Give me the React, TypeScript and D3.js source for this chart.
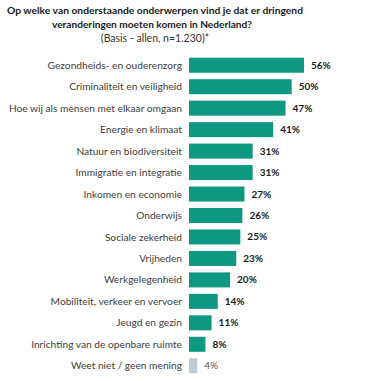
import React from 'react';
import * as d3 from 'd3';

const categories = [
  'Gezondheids- en ouderenzorg',
  'Criminaliteit en veiligheid',
  'Hoe wij als mensen met elkaar omgaan',
  'Energie en klimaat',
  'Natuur en biodiversiteit',
  'Immigratie en integratie',
  'Inkomen en economie',
  'Onderwijs',
  'Sociale zekerheid',
  'Vrijheden',
  'Werkgelegenheid',
  'Mobiliteit, verkeer en vervoer',
  'Jeugd en gezin',
  'Inrichting van de openbare ruimte',
  'Weet niet / geen mening',
];
const values = [56, 50, 47, 41, 31, 31, 27, 26, 25, 23, 20, 14, 11, 8, 4];
const titleLines = [
  'Op welke van onderstaande onderwerpen vind je dat er dringend',
  'veranderingen moeten komen in Nederland?',
];
const subtitle = '(Basis - allen, n=1.230)*';

const W = 370;
const H = 381;
const font = 'Lato, "Liberation Sans", sans-serif';

const App: React.FC = () => {
  const x = d3.scaleLinear().domain([0, 56]).range([189, 304]);
  const y = d3.scaleBand<string>()
    .domain(categories)
    .range([54.5, 376.5])
    .paddingInner(0.3)
    .paddingOuter(0.15);

  return (
    <svg width={W} height={H} style={{ position: 'absolute', left: 0, top: 0, background: '#fff' }}>
      <g fontFamily={font} fill="#1a1a1a" textAnchor="middle">
        <text x={155} y={14} fontSize={10} fontWeight="bold" textLength={296} lengthAdjust="spacingAndGlyphs">{titleLines[0]}</text>
        <text x={152} y={28} fontSize={10} fontWeight="bold" textLength={200} lengthAdjust="spacingAndGlyphs">{titleLines[1]}</text>
        <text x={155} y={42} fontSize={10.5} fill="#333">{subtitle}</text>
      </g>
      {categories.map((c, i) => {
        const yy = y(c) || 0;
        const cy = yy + y.bandwidth() / 2;
        const last = i === categories.length - 1;
        return (
          <g key={c} fontFamily={font}>
            <text x={182} y={cy} dy="0.35em" textAnchor="end" fontSize={10.2} fill="#404040">{c}</text>
            <rect x={x(0)} y={yy} width={x(values[i]) - x(0)} height={y.bandwidth()} fill={last ? '#BCCBD6' : '#0E9882'} />
            <text x={x(values[i]) + 7} y={cy} dy="0.35em" fontSize={10} fontWeight={last ? 'normal' : 'bold'} fill={last ? '#555' : '#1a1a1a'}>{values[i]}%</text>
          </g>
        );
      })}
    </svg>
  );
};

export default App;
